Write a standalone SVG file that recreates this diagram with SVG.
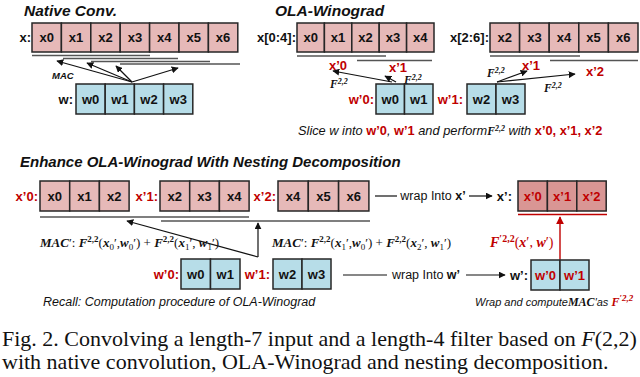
<svg xmlns="http://www.w3.org/2000/svg" width="640" height="377" viewBox="0 0 640 377">
<defs>
<style>
.bx{fill:#e6b9b8;stroke:#262626;stroke-width:1.5}
.bd{fill:#d99694;stroke:#262626;stroke-width:1.5}
.bw{fill:#b7dde8;stroke:#262626;stroke-width:1.5}
.t{font-family:"Liberation Sans",Arial,sans-serif;font-weight:bold;font-size:13px;fill:#111;text-anchor:middle}
.lb{font-family:"Liberation Sans",Arial,sans-serif;font-weight:bold;font-size:13px;fill:#111;text-anchor:end}
.ti{font-family:"Liberation Sans",Arial,sans-serif;font-weight:bold;font-style:italic;font-size:15.5px;fill:#111}
.it{font-family:"Liberation Sans",Arial,sans-serif;font-style:italic;font-size:12.5px;fill:#111}
.m{font-family:"Liberation Serif","Times New Roman",serif;font-size:13px;fill:#111}
.mb{font-weight:bold;font-style:italic}
.cap{font-family:"Liberation Serif","Times New Roman",serif;font-size:22px;fill:#111}
.ul{stroke:#555;stroke-width:1.4;fill:none}
.ar{stroke:#111;stroke-width:1.2;fill:none;marker-end:url(#ah)}
.arr{stroke:#c00000;stroke-width:1.4;fill:none;marker-end:url(#ahr)}
text.tr,tspan.tr{fill:#c00000}
</style>
<marker id="ah" viewBox="0 0 10 10" refX="9" refY="5" markerWidth="7" markerHeight="7" orient="auto" markerUnits="userSpaceOnUse"><path d="M0,0 L10,5 L0,10 z" fill="#111"/></marker>
<marker id="ahr" viewBox="0 0 10 10" refX="9" refY="5" markerWidth="8" markerHeight="8" orient="auto" markerUnits="userSpaceOnUse"><path d="M0,0 L10,5 L0,10 z" fill="#c00000"/></marker>
</defs>
<rect width="640" height="377" fill="#fff"/>

<!-- Native Conv -->
<g id="native">
<text class="ti" x="24" y="16">Native Conv.</text>
<text class="lb" x="31" y="42">x:</text>
<rect class="bx" x="32" y="23" width="29.4" height="29"/><text class="t" x="46.7" y="42">x0</text>
<rect class="bx" x="61.4" y="23" width="29.4" height="29"/><text class="t" x="76.1" y="42">x1</text>
<rect class="bx" x="90.8" y="23" width="29.4" height="29"/><text class="t" x="105.5" y="42">x2</text>
<rect class="bx" x="120.2" y="23" width="29.4" height="29"/><text class="t" x="134.9" y="42">x3</text>
<rect class="bx" x="149.6" y="23" width="29.4" height="29"/><text class="t" x="164.3" y="42">x4</text>
<rect class="bx" x="179" y="23" width="29.4" height="29"/><text class="t" x="193.7" y="42">x5</text>
<rect class="bx" x="208.4" y="23" width="29.4" height="29"/><text class="t" x="223.1" y="42">x6</text>
<text class="lb" x="73" y="104">w:</text>
<rect class="bw" x="76" y="84" width="29.2" height="30"/><text class="t" x="90.6" y="104">w0</text>
<rect class="bw" x="105.2" y="84" width="29.2" height="30"/><text class="t" x="119.8" y="104">w1</text>
<rect class="bw" x="134.4" y="84" width="29.2" height="30"/><text class="t" x="149" y="104">w2</text>
<rect class="bw" x="163.6" y="84" width="29.2" height="30"/><text class="t" x="178.2" y="104">w3</text>
<text class="it" x="52" y="79" style="font-weight:bold;font-size:9.5px">MAC</text>
</g>

<!-- OLA-Winograd -->
<g id="ola">
<text class="ti" x="275" y="16">OLA-Winograd</text>
<text class="lb" x="296" y="42">x[0:4]:</text>
<rect class="bx" x="297" y="23" width="27.4" height="29"/><text class="t" x="310.7" y="42">x0</text>
<rect class="bx" x="324.4" y="23" width="27.4" height="29"/><text class="t" x="338.1" y="42">x1</text>
<rect class="bx" x="351.8" y="23" width="27.4" height="29"/><text class="t" x="365.5" y="42">x2</text>
<rect class="bx" x="379.2" y="23" width="27.4" height="29"/><text class="t" x="392.9" y="42">x3</text>
<rect class="bx" x="406.6" y="23" width="27.4" height="29"/><text class="t" x="420.3" y="42">x4</text>
<text class="lb" x="489" y="42">x[2:6]:</text>
<rect class="bx" x="490" y="23" width="29.6" height="29"/><text class="t" x="504.8" y="42">x2</text>
<rect class="bx" x="519.6" y="23" width="29.6" height="29"/><text class="t" x="534.4" y="42">x3</text>
<rect class="bx" x="549.2" y="23" width="29.6" height="29"/><text class="t" x="564" y="42">x4</text>
<rect class="bx" x="578.8" y="23" width="29.6" height="29"/><text class="t" x="593.6" y="42">x5</text>
<rect class="bx" x="608.4" y="23" width="29.6" height="29"/><text class="t" x="623.2" y="42">x6</text>
<text class="t tr" x="338" y="70">x’0</text>
<text class="t tr" x="398" y="72">x’1</text>
<text class="t tr" x="531" y="70">x’1</text>
<text class="t tr" x="595" y="76">x’2</text>
<text class="m mb" x="330" y="88" style="font-size:11.5px">F<tspan dy="-4" style="font-size:8px">2,2</tspan></text>
<text class="m mb" x="404" y="84" style="font-size:11.5px">F<tspan dy="-4" style="font-size:8px">2,2</tspan></text>
<text class="m mb" x="487" y="77" style="font-size:11.5px">F<tspan dy="-4" style="font-size:8px">2,2</tspan></text>
<text class="m mb" x="544" y="92" style="font-size:11.5px">F<tspan dy="-4" style="font-size:8px">2,2</tspan></text>
<text class="lb tr" x="374" y="104">w’0:</text>
<rect class="bw" x="376" y="84" width="28.5" height="30"/><text class="t" x="390.2" y="104">w0</text>
<rect class="bw" x="404.5" y="84" width="28.5" height="30"/><text class="t" x="418.7" y="104">w1</text>
<text class="lb tr" x="463" y="104">w’1:</text>
<rect class="bw" x="467" y="84" width="29" height="30"/><text class="t" x="481.5" y="104">w2</text>
<rect class="bw" x="496" y="84" width="29" height="30"/><text class="t" x="510.5" y="104">w3</text>
<text class="it" x="298" y="135" style="font-size:12.8px">Slice w into <tspan class="tr" style="font-style:normal;font-weight:bold">w’0</tspan>, <tspan class="tr" style="font-style:normal;font-weight:bold">w’1</tspan> and perform<tspan class="m mb" style="font-size:11.5px">F<tspan dy="-4" style="font-size:8px">2,2</tspan></tspan><tspan dy="4">  with </tspan><tspan class="tr" style="font-style:normal;font-weight:bold">x’0, x’1, x’2</tspan></text>
</g>

<!-- Enhance -->
<g id="enhance-title"><text class="ti" x="20" y="167" style="font-size:15px">Enhance OLA-Winograd With Nesting Decomposition</text></g>

<g id="xrow">
<text class="lb tr" x="38" y="201">x’0:</text>
<rect class="bx" x="40" y="181" width="29.7" height="30"/><text class="t" x="54.8" y="201">x0</text>
<rect class="bx" x="69.7" y="181" width="29.7" height="30"/><text class="t" x="84.5" y="201">x1</text>
<rect class="bx" x="99.4" y="181" width="29.7" height="30"/><text class="t" x="114.2" y="201">x2</text>
<text class="lb tr" x="158" y="201">x’1:</text>
<rect class="bx" x="160" y="181" width="29.7" height="30"/><text class="t" x="174.8" y="201">x2</text>
<rect class="bx" x="189.7" y="181" width="29.7" height="30"/><text class="t" x="204.5" y="201">x3</text>
<rect class="bx" x="219.4" y="181" width="29.7" height="30"/><text class="t" x="234.2" y="201">x4</text>
<text class="lb tr" x="276" y="201">x’2:</text>
<rect class="bx" x="278" y="181" width="30.3" height="30"/><text class="t" x="293.1" y="201">x4</text>
<rect class="bx" x="308.3" y="181" width="30.3" height="30"/><text class="t" x="323.4" y="201">x5</text>
<rect class="bx" x="338.6" y="181" width="30.3" height="30"/><text class="t" x="353.7" y="201">x6</text>
</g>

<g id="xprime">
<text class="lb" x="512" y="201">x’:</text>
<rect class="bd" x="518" y="181" width="29.4" height="30"/><text class="t tr" x="532.7" y="201">x’0</text>
<rect class="bd" x="547.4" y="181" width="29.4" height="30"/><text class="t tr" x="562.1" y="201">x’1</text>
<rect class="bd" x="576.8" y="181" width="29.4" height="30"/><text class="t tr" x="591.5" y="201">x’2</text>
</g>

<g id="wrow">
<text class="lb tr" x="179" y="279">w’0:</text>
<rect class="bw" x="181" y="259" width="29.5" height="30"/><text class="t" x="195.7" y="279">w0</text>
<rect class="bw" x="210.5" y="259" width="29.5" height="30"/><text class="t" x="225.2" y="279">w1</text>
<text class="lb tr" x="270" y="279">w’1:</text>
<rect class="bw" x="273" y="259" width="29" height="30"/><text class="t" x="287.5" y="279">w2</text>
<rect class="bw" x="302" y="259" width="29" height="30"/><text class="t" x="316.5" y="279">w3</text>
</g>

<g id="wprime">
<text class="lb" x="528" y="280">w’:</text>
<rect class="bw" x="531" y="260" width="29" height="30"/><text class="t tr" x="545.5" y="280">w’0</text>
<rect class="bw" x="560" y="260" width="29" height="30"/><text class="t tr" x="574.5" y="280">w’1</text>
</g>

<g id="labels">
<text class="m" x="40" y="247"><tspan class="mb">MAC</tspan>′: <tspan class="mb">F</tspan><tspan dy="-5" style="font-size:9px;font-weight:bold">2,2</tspan><tspan dy="5">(</tspan><tspan class="mb">x</tspan><tspan dy="3" style="font-size:9px">0</tspan><tspan dy="-3">′</tspan>,<tspan class="mb">w</tspan><tspan dy="3" style="font-size:9px">0</tspan><tspan dy="-3">′) + </tspan><tspan class="mb">F</tspan><tspan dy="-5" style="font-size:9px;font-weight:bold">2,2</tspan><tspan dy="5">(</tspan><tspan class="mb">x</tspan><tspan dy="3" style="font-size:9px">1</tspan><tspan dy="-3">′, </tspan><tspan class="mb">w</tspan><tspan dy="3" style="font-size:9px">1</tspan><tspan dy="-3">′)</tspan></text>
<text class="m" x="272" y="247"><tspan class="mb">MAC</tspan>′: <tspan class="mb">F</tspan><tspan dy="-5" style="font-size:9px;font-weight:bold">2,2</tspan><tspan dy="5">(</tspan><tspan class="mb">x</tspan><tspan dy="3" style="font-size:9px">1</tspan><tspan dy="-3">′</tspan>,<tspan class="mb">w</tspan><tspan dy="3" style="font-size:9px">0</tspan><tspan dy="-3">′) + </tspan><tspan class="mb">F</tspan><tspan dy="-5" style="font-size:9px;font-weight:bold">2,2</tspan><tspan dy="5">(</tspan><tspan class="mb">x</tspan><tspan dy="3" style="font-size:9px">2</tspan><tspan dy="-3">′, </tspan><tspan class="mb">w</tspan><tspan dy="3" style="font-size:9px">1</tspan><tspan dy="-3">′)</tspan></text>
<text class="m" x="490" y="247" style="fill:#c00000;font-size:14px"><tspan class="mb">F</tspan><tspan dy="-5" style="font-size:10px;font-weight:bold">′2,2</tspan><tspan dy="5">(</tspan><tspan class="mb">x</tspan>′, <tspan class="mb">w</tspan>′)</text>
<text class="t" x="433" y="200" style="font-weight:normal;font-size:12.5px">wrap Into <tspan style="font-weight:bold">x’</tspan></text>
<text class="t" x="426" y="279" style="font-weight:normal;font-size:12.5px">wrap Into <tspan style="font-weight:bold">w’</tspan></text>
<text class="it" x="43" y="306">Recall: Computation procedure of OLA-Winograd</text>
<text class="it" x="475" y="306" style="font-size:11px">Wrap and compute<tspan class="m mb" style="font-size:12px">MAC</tspan>′as <tspan class="m mb" style="font-size:12px;fill:#c00000">F</tspan><tspan class="m mb" dy="-5" style="font-size:9px;fill:#c00000">′2,2</tspan></text>
</g>

<g id="connectors">
<line class="ul" x1="32" y1="55.5" x2="150" y2="55.5"/>
<line class="ul" x1="63" y1="58.5" x2="178" y2="58.5"/>
<line class="ul" x1="91" y1="61.5" x2="210" y2="61.5"/>
<line class="ul" x1="120" y1="64" x2="240" y2="64"/>
<line class="ar" x1="132" y1="82" x2="57" y2="61"/>
<line class="ar" x1="132" y1="82" x2="87" y2="63"/>
<line class="ar" x1="132" y1="82" x2="116" y2="66"/>
<line class="ar" x1="132" y1="82" x2="178" y2="68"/>

<line class="ul" x1="297" y1="56" x2="386" y2="56"/>
<line class="ul" x1="357" y1="60.5" x2="432" y2="60.5"/>
<line class="ul" x1="490" y1="56" x2="580" y2="56"/>
<line class="ul" x1="550" y1="60.5" x2="638" y2="60.5"/>
<line class="ar" x1="392" y1="82" x2="333" y2="71"/>
<line class="ar" x1="396" y1="82" x2="385" y2="76"/>
<line class="ar" x1="497" y1="82" x2="527" y2="71"/>
<line class="ar" x1="497" y1="82" x2="575" y2="74"/>

<line class="ul" x1="40" y1="217" x2="249" y2="217"/>
<line class="ul" x1="161" y1="221" x2="370" y2="221"/>
<line x1="518" y1="214.5" x2="607" y2="214.5" stroke="#c00000" stroke-width="1.4"/>
<line class="ar" x1="258" y1="257" x2="127" y2="221"/>
<line class="ar" x1="258" y1="257" x2="258" y2="223"/>
<line class="arr" x1="560" y1="259" x2="560" y2="217"/>

<line x1="375" y1="196" x2="397" y2="196" stroke="#111" stroke-width="1.2"/>
<line class="ar" x1="469" y1="196" x2="492" y2="196"/>
<line x1="343" y1="275" x2="387" y2="275" stroke="#111" stroke-width="1.2"/>
<line class="ar" x1="466" y1="275" x2="505" y2="275"/>
</g>

<g id="caption">
<text class="cap" x="2" y="346">Fig. 2. Convolving a length-7 input and a length-4 filter based on <tspan font-style="italic">F</tspan>(2,2)</text>
<text class="cap" x="2" y="369">with native convolution, OLA-Winograd and nesting decomposition.</text>
</g>
</svg>
